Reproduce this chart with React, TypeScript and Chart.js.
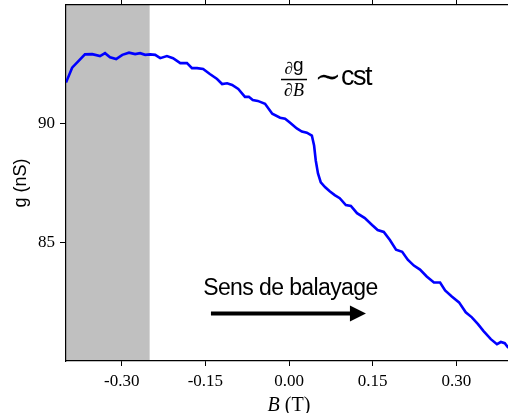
import React, { useEffect, useRef } from "react";
import { Chart, registerables } from "chart.js";

Chart.register(...registerables);

const fieldB = [
  -0.4, -0.389, -0.366, -0.353, -0.339, -0.33, -0.321, -0.31, -0.299, -0.287, -0.276, -0.267, -0.258,
  -0.249, -0.24, -0.231, -0.219, -0.208, -0.195, -0.183, -0.174, -0.165, -0.154, -0.142, -0.129, -0.12,
  -0.111, -0.102, -0.091, -0.079, -0.072, -0.065, -0.056, -0.043, -0.03, -0.016, -0.007, 0.002, 0.014,
  0.023, 0.032, 0.041, 0.045, 0.048, 0.052, 0.057, 0.065, 0.073, 0.082, 0.091, 0.102, 0.111, 0.122,
  0.136, 0.149, 0.159, 0.17, 0.181, 0.192, 0.203, 0.213, 0.224, 0.235, 0.247, 0.26, 0.271, 0.28,
  0.292, 0.305, 0.317, 0.328, 0.339, 0.349, 0.362, 0.373, 0.38, 0.387, 0.392, 0.4,
];
const conductance = [
  91.73, 92.36, 92.92, 92.93, 92.85, 92.97, 92.8, 92.72, 92.9, 92.99, 92.93, 92.97, 92.9,
  92.92, 92.9, 92.76, 92.85, 92.76, 92.55, 92.55, 92.34, 92.34, 92.3, 92.09, 91.88, 91.67,
  91.7, 91.63, 91.46, 91.13, 91.13, 91.0, 90.96, 90.84, 90.42, 90.25, 90.21, 90.04, 89.8,
  89.67, 89.62, 89.5, 89.08, 88.45, 87.9, 87.53, 87.32, 87.15, 86.99, 86.86, 86.57, 86.53, 86.23,
  86.02, 85.73, 85.52, 85.44, 85.1, 84.69, 84.6, 84.27, 84.02, 83.85, 83.56, 83.31, 83.31, 82.97,
  82.72, 82.47, 82.05, 81.84, 81.55, 81.26, 80.92, 80.71, 80.8, 80.75, 80.6, 80.45,
];
const xTickValues = [-0.3, -0.15, 0, 0.15, 0.3];
const yTickValues = [85, 90];
const shadedRange = [-0.4, -0.25];
const xRange = [-0.4, 0.4];
const yRange = [80, 95];

const yTitle = "g (nS)";
const xTitleItalic = "B";
const xTitleRest = " (T)";
const sweepText = "Sens de balayage";
const fracBottom = "∂B";
const tildeText = "∼";
const cstText = "cst";

const SERIF = '"Liberation Serif", "Times New Roman", serif';
const SANS = '"Liberation Sans", Arial, sans-serif';

export default function App() {
  const ref = useRef<HTMLCanvasElement | null>(null);

  useEffect(() => {
    if (!ref.current) return;

    const shadePlugin = {
      id: "shade",
      beforeDraw(chart: any) {
        const { ctx, chartArea, scales } = chart;
        const x0 = scales.x.getPixelForValue(shadedRange[0]);
        const x1 = scales.x.getPixelForValue(shadedRange[1]);
        ctx.save();
        ctx.fillStyle = "#c0c0c0";
        ctx.fillRect(x0, chartArea.top, x1 - x0, chartArea.bottom - chartArea.top);
        ctx.restore();
      },
    };

    const textPlugin = {
      id: "texts",
      afterDraw(chart: any) {
        const { ctx, scales } = chart;
        const xs = scales.x;
        const ys = scales.y;
        ctx.save();
        ctx.fillStyle = "#000";
        ctx.strokeStyle = "#000";

        // x-axis title
        ctx.textBaseline = "alphabetic";
        ctx.font = `italic 20px ${SERIF}`;
        const wB = ctx.measureText(xTitleItalic).width;
        ctx.font = `20px ${SERIF}`;
        const wR = ctx.measureText(xTitleRest).width;
        const cx = xs.getPixelForValue(0);
        const startX = cx - (wB + wR) / 2;
        ctx.font = `italic 20px ${SERIF}`;
        ctx.textAlign = "left";
        ctx.fillText(xTitleItalic, startX, 411);
        ctx.font = `20px ${SERIF}`;
        ctx.fillText(xTitleRest, startX + wB, 411);

        // sweep text
        ctx.font = `23px ${SANS}`;
        (ctx as any).letterSpacing = "-0.6px";
        ctx.fillText(sweepText, xs.getPixelForValue(-0.154), ys.getPixelForValue(82.77));
        (ctx as any).letterSpacing = "0px";

        // arrow
        const ax0 = xs.getPixelForValue(-0.14);
        const ax1 = xs.getPixelForValue(0.138);
        const ay = ys.getPixelForValue(82.0);
        ctx.lineWidth = 4;
        ctx.beginPath();
        ctx.moveTo(ax0, ay);
        ctx.lineTo(ax1 - 14, ay);
        ctx.stroke();
        ctx.beginPath();
        ctx.moveTo(ax1, ay);
        ctx.lineTo(ax1 - 16, ay - 8);
        ctx.lineTo(ax1 - 16, ay + 8);
        ctx.closePath();
        ctx.fill();

        // fraction
        const fx = xs.getPixelForValue(0.009);
        const fy = ys.getPixelForValue(91.86);
        ctx.lineWidth = 1.5;
        ctx.beginPath();
        ctx.moveTo(fx - 13, fy);
        ctx.lineTo(fx + 13, fy);
        ctx.stroke();
        ctx.textAlign = "left";
        ctx.font = `17px ${SERIF}`;
        const wd = ctx.measureText("∂").width;
        ctx.font = `19px ${SANS}`;
        const wg = ctx.measureText("g").width;
        const topStart = fx - (wd + wg) / 2;
        ctx.font = `17px ${SERIF}`;
        ctx.fillText("∂", topStart, fy - 6);
        ctx.font = `19px ${SANS}`;
        ctx.fillText("g", topStart + wd, fy - 9);
        ctx.font = `italic 18px ${SERIF}`;
        ctx.textAlign = "center";
        ctx.fillText(fracBottom, fx, fy + 16);

        ctx.font = `32px "DejaVu Serif", ${SERIF}`;
        ctx.textAlign = "center";
        ctx.textBaseline = "middle";
        ctx.fillText(tildeText, fx + 34, fy - 1);

        ctx.textBaseline = "alphabetic";
        ctx.textAlign = "left";
        ctx.font = `27px ${SANS}`;
        (ctx as any).letterSpacing = "-1.5px";
        ctx.fillText(cstText, fx + 47, fy + 5);
        (ctx as any).letterSpacing = "0px";
        ctx.restore();
      },
    };

    const commonGrid = {
      drawOnChartArea: false,
      drawTicks: true,
      color: "#000",
      tickColor: "#000",
      tickWidth: 1,
    };

    const chart = new Chart(ref.current, {
      type: "line",
      data: {
        datasets: [
          {
            data: fieldB.map((b, i) => ({ x: b, y: conductance[i] })),
            borderColor: "#0000ff",
            borderWidth: 2.6,
            pointRadius: 0,
            tension: 0,
            fill: false,
          },
        ],
      },
      options: {
        animation: false,
        responsive: false,
        layout: { padding: { left: 0, right: 8, top: 0, bottom: 0 } },
        plugins: {
          legend: { display: false },
          tooltip: { enabled: false },
          title: { display: false },
        },
        scales: {
          x: {
            type: "linear",
            position: "bottom",
            min: xRange[0],
            max: xRange[1],
            afterBuildTicks: (s: any) => {
              s.ticks = xTickValues.map((v) => ({ value: v }));
            },
            afterFit: (s: any) => {
              s.height = 52;
              s.paddingLeft = 0;
              s.paddingRight = 0;
            },
            ticks: {
              callback: (v: any) => Number(v).toFixed(2),
              font: { family: SERIF, size: 17 },
              color: "#000",
              padding: 5,
              maxRotation: 0,
              autoSkip: false,
            },
            grid: { ...commonGrid, tickLength: 5 },
            border: { display: true, color: "#000", width: 1.2 },
          },
          x2: {
            type: "linear",
            position: "top",
            min: xRange[0],
            max: xRange[1],
            afterBuildTicks: (s: any) => {
              s.ticks = xTickValues.map((v) => ({ value: v }));
            },
            afterFit: (s: any) => {
              s.height = 5;
              s.paddingLeft = 0;
              s.paddingRight = 0;
            },
            ticks: { display: false },
            grid: { ...commonGrid, tickLength: 5 },
            border: { display: true, color: "#000", width: 1.2 },
          },
          y: {
            type: "linear",
            position: "left",
            min: yRange[0],
            max: yRange[1],
            afterBuildTicks: (s: any) => {
              s.ticks = yTickValues.map((v) => ({ value: v }));
            },
            afterFit: (s: any) => {
              s.width = 66;
              s.paddingTop = 0;
              s.paddingBottom = 0;
            },
            ticks: {
              font: { family: SERIF, size: 17 },
              color: "#000",
              padding: 5,
            },
            grid: { ...commonGrid, tickLength: 6 },
            border: { display: true, color: "#000", width: 1.2 },
            title: {
              display: true,
              text: yTitle,
              font: { family: SANS, size: 18 },
              color: "#000",
              padding: { top: 10, bottom: 0 },
            },
          },
        },
      } as any,
      plugins: [shadePlugin, textPlugin],
    });

    return () => chart.destroy();
  }, []);

  return (
    <div
      style={{
        position: "absolute",
        left: 0,
        top: 0,
        width: 508,
        height: 413,
        overflow: "hidden",
        background: "#fff",
      }}
    >
      <canvas ref={ref} width={520} height={413} style={{ display: "block" }} />
    </div>
  );
}
